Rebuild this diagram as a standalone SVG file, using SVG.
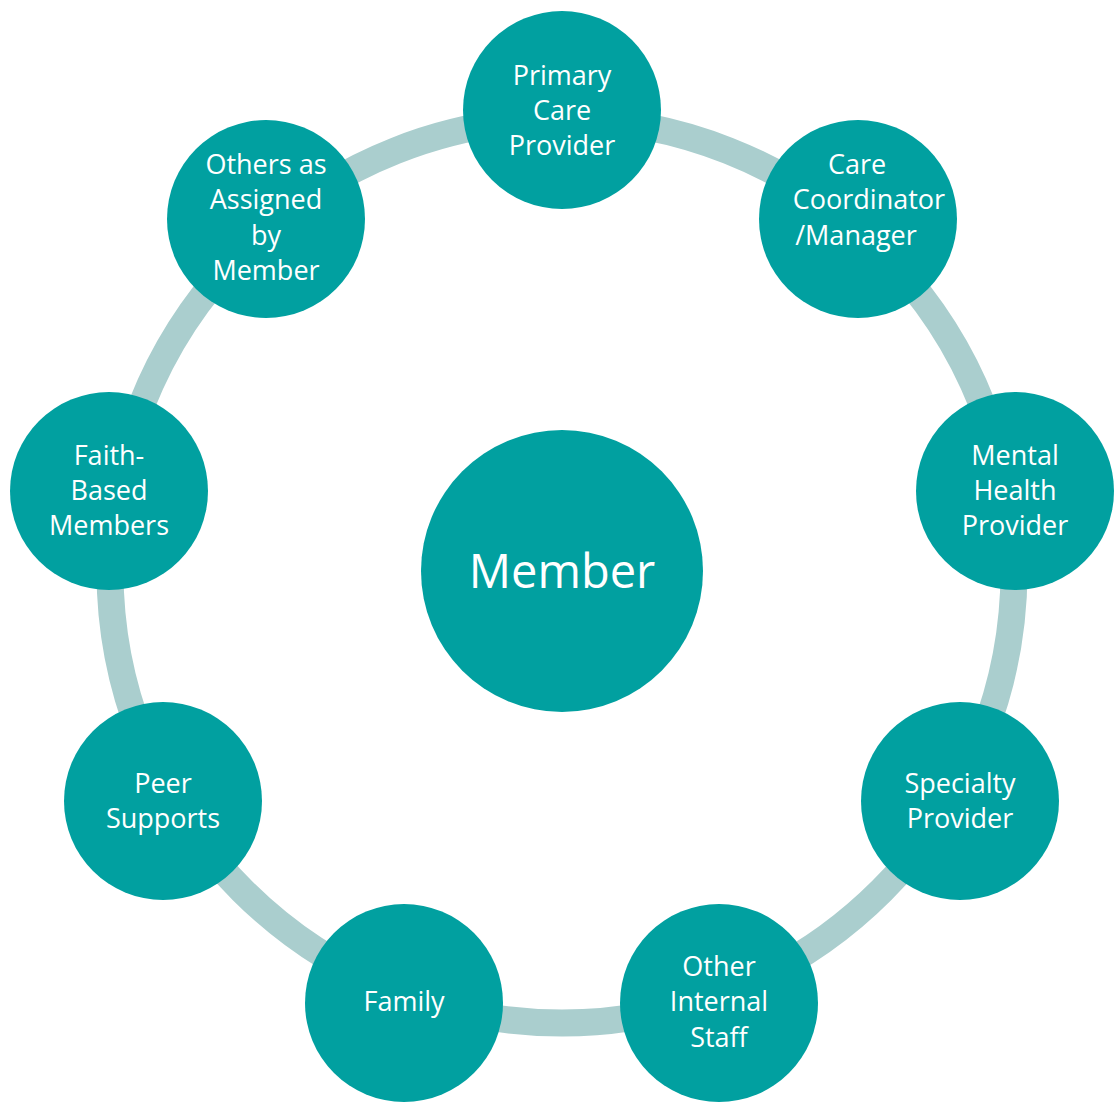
<svg xmlns="http://www.w3.org/2000/svg" width="1115" height="1102" viewBox="0 0 1115 1102">
<style>
.node{fill:#01A0A0}
.t{font-family:"Open Sans","Liberation Sans",sans-serif;font-size:27px;fill:#FFFFFF;text-anchor:middle}
.big{font-size:47px}
.ring{fill:none;stroke:#AACECE;stroke-width:27}
</style>
<rect width="1115" height="1102" fill="#FFFFFF"/>
<g id="connectors">
<circle class="ring" cx="562" cy="571" r="452"/>
</g>
<g id="center">
<circle class="node" cx="562" cy="571" r="141"/>
<text class="t big" x="562" y="588">Member</text>
</g>
<g id="primary-care-provider">
<circle class="node" cx="562" cy="110" r="99"/>
<text class="t" x="562" y="85">Primary</text>
<text class="t" x="562" y="120">Care</text>
<text class="t" x="562" y="155">Provider</text>
</g>
<g id="care-coordinator">
<circle class="node" cx="858" cy="219" r="99"/>
<text class="t" x="857" y="174">Care</text>
<text class="t" x="869" y="209">Coordinator</text>
<text class="t" x="856" y="245">/Manager</text>
</g>
<g id="mental-health-provider">
<circle class="node" cx="1015" cy="491" r="99"/>
<text class="t" x="1015" y="465">Mental</text>
<text class="t" x="1015" y="500">Health</text>
<text class="t" x="1015" y="535">Provider</text>
</g>
<g id="specialty-provider">
<circle class="node" cx="960" cy="801" r="99"/>
<text class="t" x="960" y="793">Specialty</text>
<text class="t" x="960" y="828">Provider</text>
</g>
<g id="other-internal-staff">
<circle class="node" cx="719" cy="1003" r="99"/>
<text class="t" x="719" y="976">Other</text>
<text class="t" x="719" y="1011">Internal</text>
<text class="t" x="719" y="1047">Staff</text>
</g>
<g id="family">
<circle class="node" cx="404" cy="1003" r="99"/>
<text class="t" x="404" y="1011">Family</text>
</g>
<g id="peer-supports">
<circle class="node" cx="163" cy="801" r="99"/>
<text class="t" x="163" y="793">Peer</text>
<text class="t" x="163" y="828">Supports</text>
</g>
<g id="faith-based-members">
<circle class="node" cx="109" cy="491" r="99"/>
<text class="t" x="109" y="465">Faith-</text>
<text class="t" x="109" y="500">Based</text>
<text class="t" x="109" y="535">Members</text>
</g>
<g id="others-as-assigned">
<circle class="node" cx="266" cy="219" r="99"/>
<text class="t" x="266" y="174">Others as</text>
<text class="t" x="266" y="209">Assigned</text>
<text class="t" x="266" y="245">by</text>
<text class="t" x="266" y="280">Member</text>
</g>
</svg>
